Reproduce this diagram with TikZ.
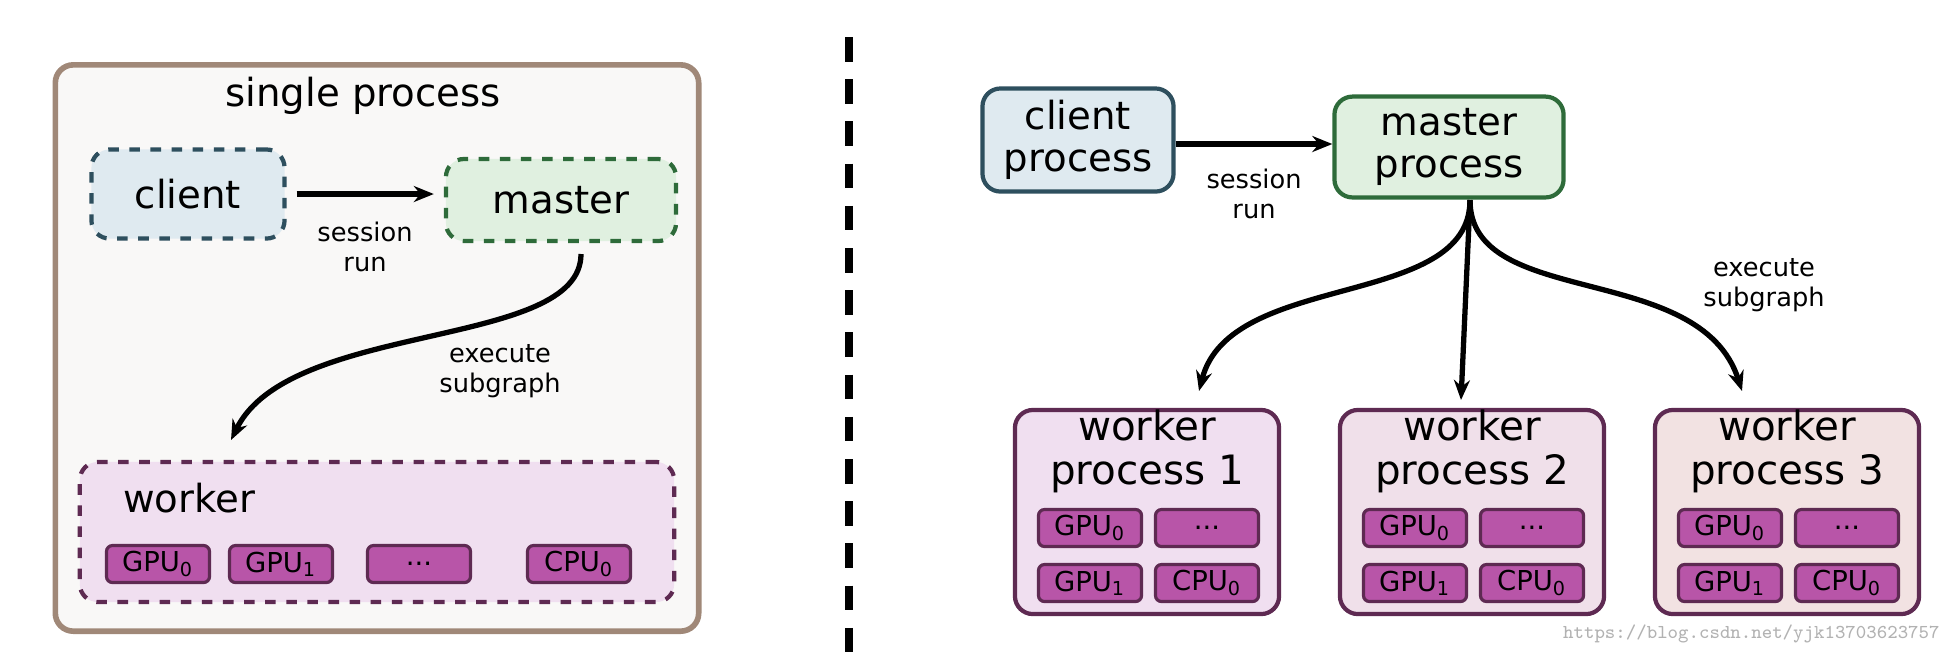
\documentclass[tikz,border=0pt]{standalone}
\usepackage{fontspec}
\setmainfont{DejaVu Sans}
\usetikzlibrary{arrows.meta}
\definecolor{cliFill}{HTML}{DFEAF0}\definecolor{cliLine}{HTML}{2E4F5E}
\definecolor{masFill}{HTML}{E0F0E0}\definecolor{masLine}{HTML}{2E6B3A}
\definecolor{wrkFill}{HTML}{F0DFF0}\definecolor{wrkLine}{HTML}{5E2A52}
\definecolor{wrkFillB}{HTML}{F0E0EA}\definecolor{wrkFillC}{HTML}{F2E2E2}
\definecolor{outFill}{HTML}{F9F8F7}\definecolor{outLine}{HTML}{A08878}
\definecolor{chipFill}{HTML}{B855A8}
\tikzset{box/.style={rounded corners=0.18cm,line width=1.2pt,align=center,font=\fontsize{11}{12}\selectfont},
  chip/.style={draw=wrkLine,fill=chipFill,rounded corners=0.06cm,line width=0.9pt,
    minimum width=1.03cm,minimum height=0.37cm,font=\fontsize{7.8}{8}\selectfont,inner sep=0pt},
  flow/.style={line width=1.5pt,-{Stealth[length=0.2cm,width=0.16cm]}},
  lbl/.style={font=\fontsize{7.3}{8.6}\selectfont,align=center}}
\begin{document}
\begin{tikzpicture}[x=0.01cm,y=-0.01cm]
  \useasboundingbox (0,0) rectangle (1958,656);
  % left half
  \node[box,draw=outLine,fill=outFill,line width=1.6pt,minimum width=6.43cm,minimum height=5.66cm] (single) at (377,348) {};
  \node[font=\fontsize{11}{12}\selectfont] (singlelbl) at (363,96) {single process};
  \node[box,dashed,draw=cliLine,fill=cliFill,minimum width=1.93cm,minimum height=0.89cm] (client) at (188,194) {client};
  \node[box,dashed,draw=masLine,fill=masFill,minimum width=2.3cm,minimum height=0.82cm] (master) at (561,200) {master};
  \node[box,dashed,draw=wrkLine,fill=wrkFill,minimum width=5.94cm,minimum height=1.4cm] (worker) at (377,532) {};
  \node[font=\fontsize{11}{12}\selectfont] (workerlbl) at (189,498) {worker};
  \node[chip] (g0) at (158,564) {GPU\textsubscript{0}};
  \node[chip] (g1) at (281,564) {GPU\textsubscript{1}};
  \node[chip] (gd) at (419,564) {...};
  \node[chip] (c0) at (579,564) {CPU\textsubscript{0}};
  \coordinate (mout) at (581,254);
  \coordinate (win) at (231,440);
  \draw[flow] ([xshift=0.1cm]client.east) -- ([xshift=-0.1cm]client.east -| master.west);
  \node[lbl] (sessA) at (365,247) {session\\run};
  \draw[flow] (mout) .. controls (581,350) and (290,320) .. (win);
  \node[lbl] (execA) at (500,371) {execute\\subgraph};
  % separator
  \coordinate (sepT) at (849,37);
  \coordinate (sepB) at (849,656);
  \draw[line width=2.2pt,dash pattern=on 7pt off 5pt] (sepT) -- (sepB);
  % right half
  \node[box,draw=cliLine,fill=cliFill,minimum width=1.91cm,minimum height=0.89cm] (clientp) at (1078,140) {client\\process};
  \node[box,draw=masLine,fill=masFill,minimum width=2.29cm,minimum height=0.86cm] (masterp) at (1449,147) {master\\process};
  \draw[flow] ([yshift=-0.04cm]clientp.east) -- ([yshift=-0.04cm]clientp.east -| masterp.west);
  \node[lbl] (sessB) at (1254,194) {session\\run};
  \coordinate (mp) at (1470,200);
  \foreach \i/\x/\f in {1/1147/wrkFill,2/1472/wrkFillB,3/1787/wrkFillC}{
    \node[box,draw=wrkLine,fill=\f,minimum width=2.64cm,minimum height=2.04cm] (w\i) at (\x,512) {};
    \node[font=\fontsize{11.5}{12.5}\selectfont,align=center] (w\i lbl) at (\x,451) {worker\\process \i};
    \node[chip] (w\i a) at (\x-57,528) {GPU\textsubscript{0}};
    \node[chip] (w\i b) at (\x+60,528) {...};
    \node[chip] (w\i c) at (\x-57,583) {GPU\textsubscript{1}};
    \node[chip] (w\i d) at (\x+60,583) {CPU\textsubscript{0}};
  }
  \coordinate (e1) at (1199,391);
  \coordinate (e2) at (1461,400);
  \coordinate (e3) at (1742,391);
  \draw[flow] (mp) .. controls (1470,310) and (1230,270) .. (e1);
  \draw[flow] (mp) -- (e2);
  \draw[flow] (mp) .. controls (1470,310) and (1700,260) .. (e3);
  \node[lbl] (execB) at (1764,285) {execute\\subgraph};
  \node[font=\ttfamily\fontsize{5.6}{7}\selectfont,text=black!30,anchor=east] (mark) at (1952,634) {https://blog.csdn.net/yjk13703623757};
\end{tikzpicture}
\end{document}
